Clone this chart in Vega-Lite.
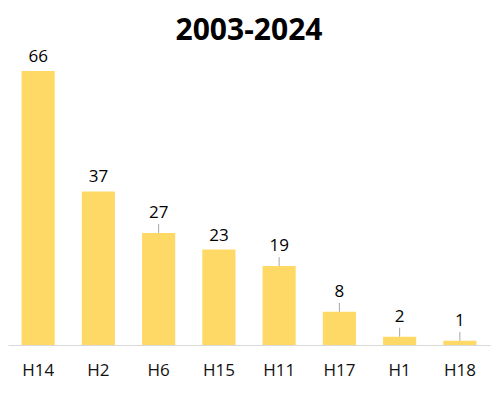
{
  "$schema": "https://vega.github.io/schema/vega-lite/v6.json",
  "width": 482,
  "height": 274,
  "autosize": {"type": "none"},
  "padding": {"left": 8, "top": 71, "right": 10, "bottom": 53},
  "background": "white",
  "title": {
    "text": "2003-2024",
    "font": "Open Sans",
    "fontSize": 30,
    "fontWeight": "bold",
    "color": "#000000",
    "anchor": "middle",
    "offset": 2
  },
  "data": {
    "values": [
      {"subtype": "H14", "count": 66},
      {"subtype": "H2", "count": 37},
      {"subtype": "H6", "count": 27},
      {"subtype": "H15", "count": 23},
      {"subtype": "H11", "count": 19},
      {"subtype": "H17", "count": 8},
      {"subtype": "H1", "count": 2},
      {"subtype": "H18", "count": 1}
    ]
  },
  "config": {"view": {"stroke": null}},
  "encoding": {
    "x": {
      "field": "subtype",
      "type": "nominal",
      "sort": null,
      "scale": {"paddingInner": 0.45, "paddingOuter": 0.225},
      "axis": {
        "title": null,
        "labelAngle": 0,
        "ticks": false,
        "domainColor": "#D9D9D9",
        "domainWidth": 1,
        "labelFont": "Open Sans",
        "labelFontSize": 17,
        "labelColor": "#111111",
        "labelPadding": 17
      }
    },
    "y": {
      "field": "count",
      "type": "quantitative",
      "scale": {"domain": [0, 66], "nice": false},
      "axis": null
    }
  },
  "layer": [
    {"mark": {"type": "bar", "color": "#FFD966"}},
    {
      "transform": [{"filter": "indexof(['H6','H11','H17','H1','H18'], datum.subtype) >= 0"}],
      "mark": {"type": "rule", "color": "#A6A6A6", "strokeWidth": 1, "y2Offset": -9},
      "encoding": {"y2": {"field": "count"}}
    },
    {
      "transform": [{"filter": "indexof(['H6','H11','H17','H1','H18'], datum.subtype) < 0"}],
      "mark": {"type": "text", "font": "Open Sans", "fontSize": 17, "color": "#000000", "baseline": "middle", "dy": -14},
      "encoding": {"text": {"field": "count", "type": "quantitative"}}
    },
    {
      "transform": [{"filter": "indexof(['H6','H11','H17','H1','H18'], datum.subtype) >= 0"}],
      "mark": {"type": "text", "font": "Open Sans", "fontSize": 17, "color": "#000000", "baseline": "middle", "dy": -20},
      "encoding": {"text": {"field": "count", "type": "quantitative"}}
    }
  ]
}
